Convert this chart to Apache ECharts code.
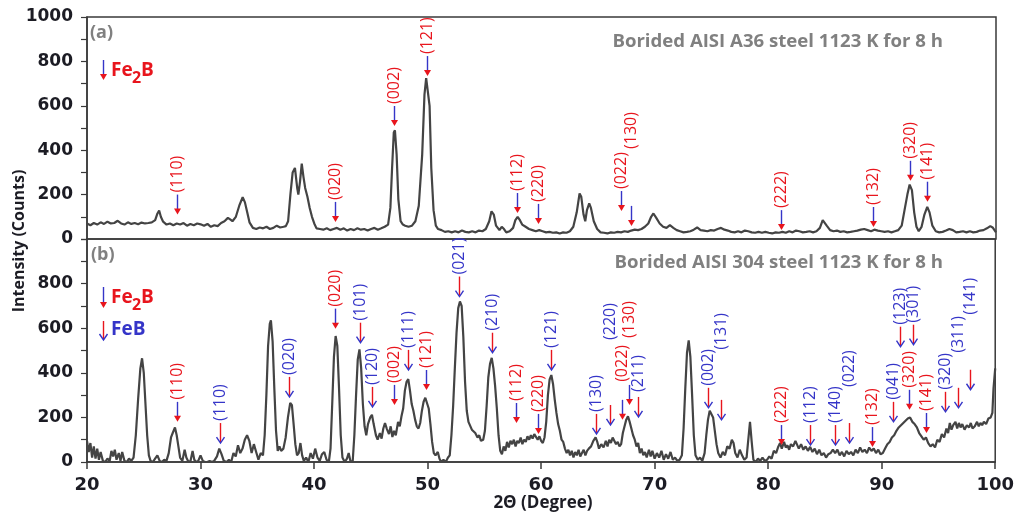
<!DOCTYPE html>
<html><head><meta charset="utf-8">
<script src="https://cdn.jsdelivr.net/npm/echarts@6/dist/echarts.min.js"></script>
<style>html,body{margin:0;padding:0;background:#fff}#c{width:1017px;height:515px}</style>
</head><body><div id="c"></div>
<script>
// ---------- DATA ----------
const xTicks = [20, 30, 40, 50, 60, 70, 80, 90, 100];
const yTicksTop = [0, 200, 400, 600, 800, 1000];
const yTicksBottom = [0, 200, 400, 600, 800];

// (a) Borided AISI A36 steel: [2theta, intensity]
const topPattern = [
[20.0,70],[20.3,62],[20.6,72],[20.9,65],[21.2,75],[21.5,68],[21.8,78],[22.1,70],[22.4,72],[22.7,82],[23.0,70],[23.3,65],[23.6,75],[23.9,68],[24.2,72],[24.5,66],[24.8,74],[25.1,70],[25.4,72],[25.7,75],[26.0,85],[26.2,115],[26.35,128],[26.5,100],[26.7,78],[27.0,65],[27.3,70],[27.6,62],[27.9,70],[28.2,65],[28.5,72],[28.8,60],[29.1,68],[29.4,62],[29.7,70],[30.0,66],[30.3,60],[30.6,68],[30.9,55],[31.2,62],[31.5,58],[31.8,72],[32.1,80],[32.4,95],[32.6,88],[32.8,80],[33.1,100],[33.4,150],[33.7,188],[33.9,165],[34.1,120],[34.3,75],[34.6,50],[34.9,45],[35.2,52],[35.5,48],[35.8,55],[36.1,45],[36.4,50],[36.7,60],[37.0,52],[37.3,55],[37.5,58],[37.7,80],[37.9,200],[38.1,300],[38.3,320],[38.5,230],[38.6,200],[38.75,260],[38.9,340],[39.05,280],[39.2,230],[39.4,190],[39.6,140],[39.8,100],[40.0,70],[40.2,48],[40.5,45],[40.8,42],[41.1,48],[41.4,40],[41.7,45],[42.0,50],[42.3,42],[42.6,48],[42.9,38],[43.2,45],[43.5,40],[43.8,48],[44.1,42],[44.4,45],[44.7,38],[45.0,45],[45.3,50],[45.6,42],[45.9,48],[46.2,55],[46.5,65],[46.7,140],[46.85,320],[47.0,480],[47.1,490],[47.25,380],[47.4,180],[47.6,80],[47.8,65],[48.0,60],[48.3,55],[48.6,60],[48.9,80],[49.2,150],[49.5,380],[49.7,650],[49.85,725],[50.0,730],[50.15,600],[50.3,320],[50.5,130],[50.7,60],[50.9,45],[51.2,40],[51.5,32],[51.8,35],[52.1,30],[52.4,35],[52.7,30],[53.0,38],[53.3,32],[53.6,30],[53.9,35],[54.2,30],[54.5,38],[54.8,35],[55.1,45],[55.4,80],[55.6,125],[55.8,110],[56.0,60],[56.3,40],[56.5,55],[56.7,45],[56.9,30],[57.2,35],[57.5,50],[57.7,85],[57.9,100],[58.1,85],[58.3,65],[58.6,55],[58.9,45],[59.2,40],[59.5,35],[59.8,40],[60.1,35],[60.4,30],[60.7,32],[61.0,28],[61.3,30],[61.6,25],[61.9,30],[62.2,28],[62.5,35],[62.8,55],[63.1,120],[63.35,205],[63.5,190],[63.7,110],[63.85,80],[64.0,130],[64.2,160],[64.35,140],[64.6,80],[64.9,45],[65.2,30],[65.5,28],[65.8,25],[66.1,30],[66.4,28],[66.7,32],[67.0,30],[67.3,35],[67.6,32],[67.9,38],[68.2,42],[68.5,40],[68.8,45],[69.1,55],[69.4,70],[69.65,100],[69.85,115],[70.1,95],[70.4,70],[70.7,55],[71.0,50],[71.3,62],[71.6,50],[71.9,40],[72.2,35],[72.5,30],[72.8,32],[73.1,35],[73.4,42],[73.7,52],[74.0,40],[74.3,38],[74.6,35],[74.9,40],[75.2,38],[75.5,45],[75.8,50],[76.1,42],[76.4,38],[76.7,32],[77.0,30],[77.3,35],[77.6,30],[77.9,38],[78.2,35],[78.5,30],[78.8,28],[79.1,32],[79.4,28],[79.7,32],[80.0,28],[80.3,25],[80.6,30],[80.9,28],[81.2,32],[81.5,28],[81.8,35],[82.1,30],[82.4,38],[82.7,35],[83.0,30],[83.3,32],[83.6,35],[83.9,30],[84.2,35],[84.5,50],[84.75,85],[84.9,90],[85.1,60],[85.4,40],[85.7,35],[86.0,38],[86.3,32],[86.6,35],[86.9,30],[87.2,32],[87.5,35],[87.8,38],[88.1,42],[88.4,45],[88.7,40],[89.0,35],[89.3,42],[89.6,38],[89.9,35],[90.2,32],[90.5,35],[90.8,30],[91.1,35],[91.4,40],[91.7,60],[91.95,130],[92.2,200],[92.4,245],[92.6,220],[92.8,120],[93.0,55],[93.2,35],[93.45,55],[93.7,110],[93.95,145],[94.15,120],[94.4,60],[94.7,35],[95.0,30],[95.3,32],[95.6,38],[95.9,45],[96.2,40],[96.5,30],[96.8,32],[97.1,35],[97.4,30],[97.7,35],[98.0,30],[98.3,32],[98.6,38],[98.9,40],[99.2,48],[99.5,58],[99.7,52],[100.0,30]
];

// (b) Borided AISI 304 steel: [2theta, intensity]
const bottomPattern = [
[20.0,95],[20.15,45],[20.3,85],[20.45,20],[20.6,70],[20.75,15],[20.9,60],[21.05,10],[21.2,45],[21.4,5],[21.6,0],[21.8,15],[22.0,5],[22.15,50],[22.3,25],[22.45,55],[22.6,10],[22.8,40],[22.95,5],[23.1,45],[23.3,5],[23.5,0],[23.7,15],[23.9,5],[24.1,20],[24.3,120],[24.5,280],[24.7,420],[24.85,465],[25.0,400],[25.15,260],[25.3,120],[25.45,30],[25.6,5],[25.8,0],[26.0,15],[26.2,30],[26.4,5],[26.6,0],[26.8,10],[27.0,5],[27.2,40],[27.4,110],[27.55,130],[27.75,155],[27.9,120],[28.05,70],[28.2,20],[28.4,5],[28.6,55],[28.75,20],[28.9,5],[29.1,0],[29.3,50],[29.45,10],[29.6,0],[29.8,5],[30.0,30],[30.2,5],[30.4,0],[30.6,0],[30.8,5],[31.0,0],[31.2,5],[31.45,25],[31.65,60],[31.85,35],[32.05,5],[32.3,0],[32.5,10],[32.7,0],[32.9,40],[33.1,25],[33.3,75],[33.5,40],[33.7,60],[33.9,100],[34.1,120],[34.3,95],[34.5,40],[34.7,80],[34.9,45],[35.1,10],[35.3,40],[35.5,30],[35.65,120],[35.8,300],[35.95,520],[36.1,620],[36.2,635],[36.35,540],[36.5,330],[36.65,140],[36.8,50],[36.95,70],[37.1,50],[37.3,60],[37.5,110],[37.7,200],[37.9,265],[38.05,255],[38.2,170],[38.35,80],[38.5,30],[38.65,40],[38.8,85],[38.95,30],[39.1,5],[39.3,20],[39.5,0],[39.7,40],[39.9,15],[40.1,60],[40.3,20],[40.5,5],[40.7,35],[40.9,45],[41.1,10],[41.3,0],[41.45,60],[41.6,260],[41.75,470],[41.9,565],[42.05,520],[42.2,330],[42.35,120],[42.5,20],[42.7,0],[42.9,15],[43.05,40],[43.2,5],[43.4,0],[43.55,120],[43.7,300],[43.85,460],[44.0,505],[44.15,420],[44.3,260],[44.45,160],[44.6,120],[44.75,170],[44.95,200],[45.1,212],[45.25,170],[45.45,120],[45.6,100],[45.8,130],[45.95,105],[46.1,150],[46.25,175],[46.4,150],[46.6,125],[46.75,160],[46.9,112],[47.05,140],[47.2,120],[47.4,180],[47.55,160],[47.7,205],[47.85,240],[48.0,320],[48.15,360],[48.3,372],[48.45,320],[48.6,260],[48.75,230],[48.9,190],[49.05,160],[49.2,150],[49.35,175],[49.5,230],[49.65,270],[49.8,288],[49.95,290],[50.1,240],[50.25,170],[50.4,90],[50.55,40],[50.7,30],[50.9,45],[51.05,15],[51.2,0],[51.4,10],[51.6,0],[51.8,20],[51.95,30],[52.1,120],[52.25,250],[52.4,420],[52.55,580],[52.7,690],[52.85,720],[53.0,700],[53.15,560],[53.3,360],[53.45,230],[53.6,180],[53.75,175],[53.9,145],[54.05,150],[54.2,130],[54.4,110],[54.55,120],[54.7,95],[54.9,100],[55.05,140],[55.2,250],[55.35,380],[55.5,440],[55.65,467],[55.8,420],[55.95,340],[56.1,240],[56.25,120],[56.4,50],[56.55,35],[56.7,70],[56.85,50],[57.0,90],[57.15,65],[57.3,95],[57.45,80],[57.6,100],[57.75,70],[57.9,95],[58.05,85],[58.2,110],[58.35,80],[58.5,100],[58.65,90],[58.8,115],[58.95,100],[59.1,120],[59.25,105],[59.4,125],[59.55,130],[59.7,100],[59.85,115],[60.0,95],[60.15,85],[60.3,110],[60.45,180],[60.6,300],[60.75,370],[60.9,390],[61.05,350],[61.2,280],[61.35,220],[61.5,170],[61.65,140],[61.8,100],[61.95,90],[62.1,60],[62.25,40],[62.4,55],[62.55,30],[62.7,50],[62.85,20],[63.0,45],[63.15,30],[63.3,55],[63.45,25],[63.6,40],[63.75,55],[63.9,30],[64.05,50],[64.2,60],[64.4,70],[64.6,95],[64.8,110],[64.95,90],[65.1,60],[65.3,80],[65.5,65],[65.7,95],[65.85,70],[66.0,100],[66.15,85],[66.3,110],[66.45,115],[66.6,80],[66.75,90],[66.9,70],[67.05,80],[67.2,130],[67.35,160],[67.5,190],[67.65,205],[67.8,180],[67.95,150],[68.1,120],[68.25,100],[68.4,70],[68.55,85],[68.7,40],[68.85,60],[69.0,30],[69.15,45],[69.3,20],[69.5,55],[69.65,25],[69.8,50],[70.0,15],[70.2,40],[70.4,20],[70.6,50],[70.8,10],[71.0,35],[71.2,15],[71.4,45],[71.6,10],[71.8,20],[72.0,5],[72.2,10],[72.4,30],[72.55,150],[72.7,330],[72.85,490],[73.0,545],[73.15,470],[73.3,300],[73.45,120],[73.6,30],[73.8,10],[74.0,20],[74.2,5],[74.4,40],[74.55,120],[74.7,190],[74.85,230],[75.0,235],[75.15,200],[75.3,140],[75.45,80],[75.6,40],[75.8,20],[76.0,45],[76.2,30],[76.4,70],[76.6,60],[76.8,100],[76.95,85],[77.1,40],[77.3,20],[77.5,55],[77.7,30],[77.9,10],[78.1,20],[78.25,100],[78.4,180],[78.55,90],[78.7,10],[78.9,0],[79.1,15],[79.3,5],[79.5,20],[79.7,5],[79.9,10],[80.1,25],[80.3,15],[80.5,50],[80.7,40],[80.9,70],[81.05,85],[81.2,60],[81.4,90],[81.55,65],[81.7,75],[81.85,55],[82.0,80],[82.2,70],[82.4,95],[82.55,90],[82.7,60],[82.9,80],[83.1,55],[83.3,70],[83.5,50],[83.7,68],[83.9,45],[84.1,60],[84.3,35],[84.5,55],[84.7,30],[84.9,40],[85.1,20],[85.3,35],[85.5,40],[85.7,55],[85.9,40],[86.1,55],[86.3,30],[86.5,45],[86.7,25],[86.9,50],[87.1,35],[87.3,45],[87.5,30],[87.7,55],[87.9,40],[88.1,65],[88.3,45],[88.5,55],[88.7,40],[88.9,65],[89.1,50],[89.3,60],[89.5,40],[89.7,55],[89.9,35],[90.1,40],[90.3,60],[90.5,80],[90.7,90],[90.9,110],[91.1,120],[91.3,140],[91.5,155],[91.7,165],[91.9,175],[92.1,185],[92.3,195],[92.5,200],[92.7,180],[92.9,170],[93.1,155],[93.3,130],[93.5,115],[93.7,100],[93.9,110],[94.1,85],[94.3,70],[94.5,80],[94.7,65],[94.9,100],[95.1,90],[95.3,125],[95.5,110],[95.7,150],[95.85,130],[96.0,175],[96.15,145],[96.3,165],[96.5,180],[96.65,150],[96.8,175],[96.95,155],[97.1,170],[97.3,145],[97.5,165],[97.7,155],[97.85,175],[98.0,150],[98.2,160],[98.4,180],[98.55,160],[98.7,175],[98.85,165],[99.0,180],[99.2,170],[99.4,195],[99.6,200],[99.75,220],[99.85,330],[100.0,420]
];

// peak markers: [2theta, arrow-tip intensity, label, phase]
const topPeaks = [
[27.9,110,'(110)','Fe2B'],[41.85,77,'(020)','Fe2B'],[47.05,509,'(002)','Fe2B'],[49.9,734,'(121)','Fe2B'],
[57.8,117,'(112)','Fe2B'],[59.7,68,'(220)','Fe2B'],[67.0,126,'(022)','Fe2B'],[67.9,59,'(130)','Fe2B'],
[81.1,40,'(222)','Fe2B'],[89.2,54,'(132)','Fe2B'],[92.4,262,'(320)','Fe2B'],[93.9,168,'(141)','Fe2B']
];
const bottomPeaks = [
[27.9,180,'(110)','Fe2B'],[31.7,85,'(110)','FeB'],[37.8,292,'(020)','FeB'],[41.85,598,'(020)','Fe2B'],
[44.05,535,'(101)','FeB'],[45.1,247,'(120)','FeB'],[47.05,256,'(002)','Fe2B'],[48.3,413,'(111)','FeB'],
[49.85,323,'(121)','Fe2B'],[52.8,742,'(021)','FeB'],[55.7,490,'(210)','FeB'],[57.8,175,'(112)','Fe2B'],
[59.75,126,'(220)','Fe2B'],[60.9,413,'(121)','FeB'],[64.85,126,'(130)','FeB'],[66.1,166,'(220)','FeB'],
[67.1,189,'(022)','Fe2B'],[67.7,256,'(130)','Fe2B'],[68.55,202,'(211)','FeB'],[74.7,243,'(002)','FeB'],
[75.85,189,'(131)','FeB'],[81.1,76,'(222)','Fe2B'],[83.7,76,'(112)','FeB'],[85.9,76,'(140)','FeB'],
[87.1,85,'(022)','FeB'],[89.15,67,'(132)','Fe2B'],[91.0,180,'(041)','FeB'],[91.6,517,'(123)','FeB'],
[92.75,526,'(301)','FeB'],[92.4,234,'(320)','Fe2B'],[93.9,130,'(141)','Fe2B'],[95.6,225,'(320)','FeB'],
[96.75,243,'(311)','FeB'],[97.8,324,'(141)','FeB']
];

// ---------- LAYOUT (label raise above arrow, px) ----------
const topLift = [0,0,0,0,0,0,0,55,0,0,0,0];
const bottomLift = [0,0,0,0,0,0,0,0,0,0,0,0,0,0,0,63,16,45,3,0,48,0,0,0,34,0,0,0,0,0,0,0,33,53];

const RED = '#e8151d', BLUE = '#3535c8', GRAY = '#808080', INK = '#1c1c24';
const TICKFONT = '"DejaVu Sans"';

function annotSeries(peaks, lifts, idx) {
  return {
    type: 'custom', xAxisIndex: idx, yAxisIndex: idx, clip: false, z: 5, silent: true,
    data: peaks.map(p => [p[0], p[1]]),
    renderItem: (params, api) => {
      const i = params.dataIndex, pk = peaks[i];
      const pt = api.coord([api.value(0), api.value(1)]);
      const x = Math.round(pt[0]) + 0.5, y = pt[1];
      const L = 20, lift = lifts[i] || 0, feb = pk[3] === 'FeB';
      return { type: 'group', children: [
        { type: 'line', shape: { x1: x, y1: y - L, x2: x, y2: y - (feb ? 1 : 5) },
          style: { stroke: feb ? RED : BLUE, lineWidth: 1.4 } },
        feb ? { type: 'polyline', shape: { points: [[x - 4, y - 6], [x, y], [x + 4, y - 6]] },
                style: { stroke: BLUE, fill: 'none', lineWidth: 1.4 } }
            : { type: 'polygon', shape: { points: [[x - 3.5, y - 6], [x + 3.5, y - 6], [x, y]] },
                style: { fill: RED } },
        { type: 'text', x: x, y: y - L - 2 - lift, rotation: Math.PI / 2,
          style: { text: pk[2], fill: feb ? BLUE : RED, font: '16px "Open Sans"',
                   textAlign: 'left', textVerticalAlign: 'middle', align: 'left', verticalAlign: 'middle' } }
      ]};
    }
  };
}

function legendArrow(x, y1, y2, feb) {
  return [
    { type: 'line', shape: { x1: x, y1: y1, x2: x, y2: y2 - (feb ? 1 : 5) }, style: { stroke: feb ? RED : BLUE, lineWidth: 1.4 } },
    feb ? { type: 'polyline', shape: { points: [[x - 4, y2 - 6], [x, y2], [x + 4, y2 - 6]] }, style: { stroke: BLUE, fill: 'none', lineWidth: 1.4 } }
        : { type: 'polygon', shape: { points: [[x - 3.5, y2 - 6], [x + 3.5, y2 - 6], [x, y2]] }, style: { fill: RED } }
  ];
}
function txt(t, x, y, opts) {
  return Object.assign({ type: 'text', x: x, y: y, style: Object.assign({ text: t, textVerticalAlign: 'middle', verticalAlign: 'middle' }, opts) });
}
const legFont = 'bold 19px "Open Sans"', subFont = 'bold 16px "Open Sans"';
const titleFont = 'bold 18.6px "Open Sans"';

const chart = echarts.init(document.getElementById('c'), null, { renderer: 'canvas' });
const yLabelFmt = (allowed) => (v) => allowed.indexOf(v) >= 0 ? String(v) : '';

chart.setOption({
  animation: false,
  backgroundColor: '#fff',
  grid: [
    { left: 87, right: 21, top: 17, height: 222, show: true, borderColor: '#3a3a3a', borderWidth: 1.5 },
    { left: 87, right: 21, top: 239, height: 223, show: true, borderColor: '#3a3a3a', borderWidth: 1.5 }
  ],
  xAxis: [
    { gridIndex: 0, type: 'value', min: xTicks[0], max: xTicks[xTicks.length - 1], interval: 10,
      axisLine: { show: false }, axisTick: { show: false }, axisLabel: { show: false }, splitLine: { show: false } },
    { gridIndex: 1, type: 'value', min: xTicks[0], max: xTicks[xTicks.length - 1], interval: 10,
      axisLine: { show: true, lineStyle: { color: '#3a3a3a', width: 1.5 } },
      axisTick: { show: true, length: 7, lineStyle: { color: '#3a3a3a', width: 1.5 } },
      axisLabel: { margin: 14, color: INK, fontFamily: TICKFONT, fontWeight: 'bold', fontSize: 18 },
      splitLine: { show: false } }
  ],
  yAxis: [
    { gridIndex: 0, type: 'value', min: 0, max: 1000, interval: 100,
      axisLine: { show: true, lineStyle: { color: '#3a3a3a', width: 1.5 } },
      axisTick: { show: true, length: 6, lineStyle: { color: '#3a3a3a', width: 1.2 } },
      axisLabel: { margin: 14, color: INK, fontFamily: TICKFONT, fontWeight: 'bold', fontSize: 17, formatter: yLabelFmt(yTicksTop) },
      splitLine: { show: false } },
    { gridIndex: 1, type: 'value', min: 0, max: 1000, interval: 100,
      axisLine: { show: true, lineStyle: { color: '#3a3a3a', width: 1.5 } },
      axisTick: { show: true, length: 6, lineStyle: { color: '#3a3a3a', width: 1.2 } },
      axisLabel: { margin: 14, color: INK, fontFamily: TICKFONT, fontWeight: 'bold', fontSize: 17, formatter: yLabelFmt(yTicksBottom) },
      splitLine: { show: false } }
  ],
  series: [
    { type: 'line', xAxisIndex: 0, yAxisIndex: 0, data: topPattern, showSymbol: false, silent: true,
      lineStyle: { color: '#444444', width: 2.2 } },
    { type: 'line', xAxisIndex: 1, yAxisIndex: 1, data: bottomPattern, showSymbol: false, silent: true,
      lineStyle: { color: '#444444', width: 2.2 } },
    annotSeries(topPeaks, topLift, 0),
    annotSeries(bottomPeaks, bottomLift, 1)
  ],
  graphic: [
    txt('(a)', 90, 33, { fill: GRAY, font: 'bold 18px "Open Sans"' }),
    txt('Borided AISI A36 steel 1123 K for 8 h', 943, 42, { fill: GRAY, font: titleFont, textAlign: 'right', align: 'right' }),
    txt('(b)', 91, 255, { fill: GRAY, font: 'bold 18px "Open Sans"' }),
    txt('Borided AISI 304 steel 1123 K for 8 h', 943, 263, { fill: GRAY, font: titleFont, textAlign: 'right', align: 'right' }),
    ...legendArrow(103.5, 60, 80, false),
    txt('Fe', 111, 71, { fill: RED, font: legFont }),
    txt('2', 132, 78, { fill: RED, font: subFont }),
    txt('B', 141, 71, { fill: RED, font: legFont }),
    ...legendArrow(103.5, 287, 308, false),
    txt('Fe', 111, 298, { fill: RED, font: legFont }),
    txt('2', 132, 305, { fill: RED, font: subFont }),
    txt('B', 141, 298, { fill: RED, font: legFont }),
    ...legendArrow(103.5, 321, 340, true),
    txt('FeB', 111, 330, { fill: BLUE, font: legFont }),
    { type: 'text', x: 19, y: 241, rotation: Math.PI / 2,
      style: { text: 'Intensity (Counts)', fill: INK, font: 'bold 16px "Open Sans"', textAlign: 'center', align: 'center', textVerticalAlign: 'middle', verticalAlign: 'middle' } },
    txt('2Θ (Degree)', 543, 503, { fill: INK, font: 'bold 17px "Open Sans"', textAlign: 'center', align: 'center' })
  ]
});
</script>
</body></html>
